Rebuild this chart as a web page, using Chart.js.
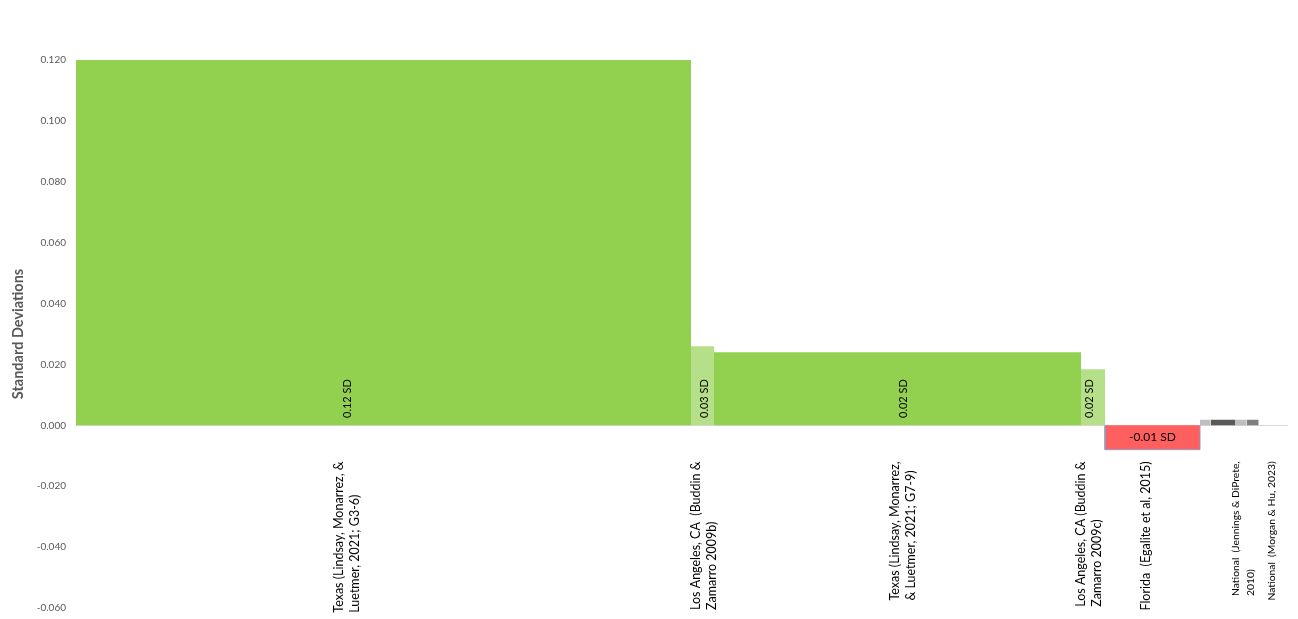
<!DOCTYPE html>
<html>
<head>
<meta charset="utf-8">
<script src="https://cdn.jsdelivr.net/npm/chart.js@4"></script>
<style>
  html, body { margin: 0; padding: 0; background: #ffffff; overflow: hidden; }
  #wrap { width: 1298px; height: 619px; overflow: hidden; }
  canvas { display: block; }
</style>
</head>
<body>
<div id="wrap"><canvas id="c" width="1298" height="624"></canvas></div>
<script>
// ---- Data ----
const categories = [
  ["Texas (Lindsay, Monarrez, &", "Luetmer, 2021; G3-6)"],
  ["Los Angeles, CA  (Buddin &", "Zamarro 2009b)"],
  ["Texas (Lindsay, Monarrez,", "& Luetmer, 2021; G7-9)"],
  ["Los Angeles, CA (Buddin &", "Zamarro 2009c)"],
  ["Florida  (Egalite et al, 2015)"],
  ["National  (Jennings & DiPrete,", "2010)"],
  ["National  (Morgan & Hu, 2023)"]
];
// category label positions on the cumulative-width axis
const labelPositions = [27.1, 62.8, 82.7, 101.3, 107.0, 116.7, 119.6];
const valueLabels = ["0.12 SD", "0.03 SD", "0.02 SD", "0.02 SD", "-0.01 SD", "", ""];

// bar segments (variable width)
const segmentValues = [0.120, 0.026, 0.024, 0.0184, -0.008, 0.0018, 0.0018, 0.0018, 0.0018];
const segmentWidths = [61.5, 2.3, 36.7, 2.4, 9.5, 1.07, 2.43, 1.17, 1.2];
const segmentCategory = [0, 1, 2, 3, 4, 5, 5, 6, 6];

const yTicks = { min: -0.06, max: 0.12, step: 0.02 };

// ---- Styles ----
const segmentColors = ["#92D050", "#B6DF89", "#92D050", "#B6DF89", "#FF5F5F", "#BFBFBF", "#595959", "#BFBFBF", "#7F7F7F"];
const segmentBorders = [null, null, null, null, "#8C9FC6", null, null, null, null];
const catFontSizes = [12.5, 12.5, 12.5, 12.5, 12.5, 10.3, 10.3];

// ---- Build datasets ----
let cum = 0;
const datasets = segmentValues.map((v, i) => {
  const x0 = cum, x1 = cum + segmentWidths[i];
  cum = x1;
  return {
    data: [{x: x0, y: 0}, {x: x0, y: v}, {x: x1, y: v}, {x: x1, y: 0}],
    showLine: true,
    fill: 'origin',
    backgroundColor: segmentColors[i],
    borderColor: segmentBorders[i] || segmentColors[i],
    borderWidth: segmentBorders[i] ? 1 : 0,
    pointRadius: 0,
    tension: 0
  };
});

const VAL_FONT = '11px Lato';

const labelsPlugin = {
  id: 'labelsPlugin',
  afterDraw(chart) {
    const ctx = chart.ctx;
    const xs = chart.scales.x, ys = chart.scales.y;
    const zeroY = ys.getPixelForValue(0);
    ctx.save();
    ctx.fillStyle = '#000000';
    // category labels
    categories.forEach((lines, i) => {
      ctx.font = catFontSizes[i] + 'px Lato';
      const cx = xs.getPixelForValue(labelPositions[i]);
      const maxW = Math.max(...lines.map(l => ctx.measureText(l).width));
      const top = zeroY + 36;
      const start = top + maxW;
      lines.forEach((line, j) => {
        const lx = cx + (j - (lines.length - 1) / 2) * 15.5;
        ctx.save();
        ctx.translate(lx, start);
        ctx.rotate(-Math.PI / 2);
        ctx.textAlign = 'left';
        ctx.textBaseline = 'middle';
        ctx.fillText(line, 0, 0);
        ctx.restore();
      });
    });
    // value labels
    ctx.font = VAL_FONT;
    valueLabels.forEach((txt, k) => {
      if (!txt) return;
      const segIdx = segmentCategory.indexOf(k);
      const v = segmentValues[segIdx];
      if (v >= 0) {
        const cx = xs.getPixelForValue(labelPositions[k]);
        const cy = ys.getPixelForValue(0.0088);
        ctx.save();
        ctx.translate(cx, cy);
        ctx.rotate(-Math.PI / 2);
        ctx.textAlign = 'center';
        ctx.textBaseline = 'middle';
        ctx.fillText(txt, 0, 0);
        ctx.restore();
      } else {
        let x0 = 0;
        for (let s = 0; s < segIdx; s++) x0 += segmentWidths[s];
        const cx = xs.getPixelForValue(x0 + segmentWidths[segIdx] / 2);
        const cy = ys.getPixelForValue(v / 2);
        ctx.font = '12px Lato';
        ctx.textAlign = 'center';
        ctx.textBaseline = 'middle';
        ctx.fillText(txt, cx, cy);
        ctx.font = VAL_FONT;
      }
    });
    ctx.restore();
  }
};

new Chart(document.getElementById('c'), {
  type: 'scatter',
  data: { datasets },
  options: {
    responsive: false,
    animation: false,
    layout: { padding: { top: 60, bottom: 8, left: 0, right: 10 } },
    plugins: { legend: { display: false }, tooltip: { enabled: false } },
    scales: {
      x: { type: 'linear', display: false, min: 0, max: 121.2 },
      y: {
        min: yTicks.min, max: yTicks.max,
        border: { display: false },
        grid: {
          drawTicks: false,
          color: c => (Math.abs(c.tick.value) < 1e-9 ? '#D9D9D9' : 'rgba(0,0,0,0)'),
          lineWidth: 1
        },
        ticks: {
          stepSize: yTicks.step,
          padding: 10,
          color: '#595959',
          font: { family: 'Lato', size: 10 },
          callback: v => (Math.abs(v) < 1e-9 ? 0 : v).toFixed(3)
        },
        title: {
          display: true,
          text: 'Standard Deviations',
          color: '#595959',
          font: { family: 'Lato', size: 14.5, weight: 'bold' },
          padding: { top: 10, bottom: 0 }
        },
        afterFit: s => { s.width = 76; }
      }
    }
  },
  plugins: [labelsPlugin]
});
</script>
</body>
</html>
